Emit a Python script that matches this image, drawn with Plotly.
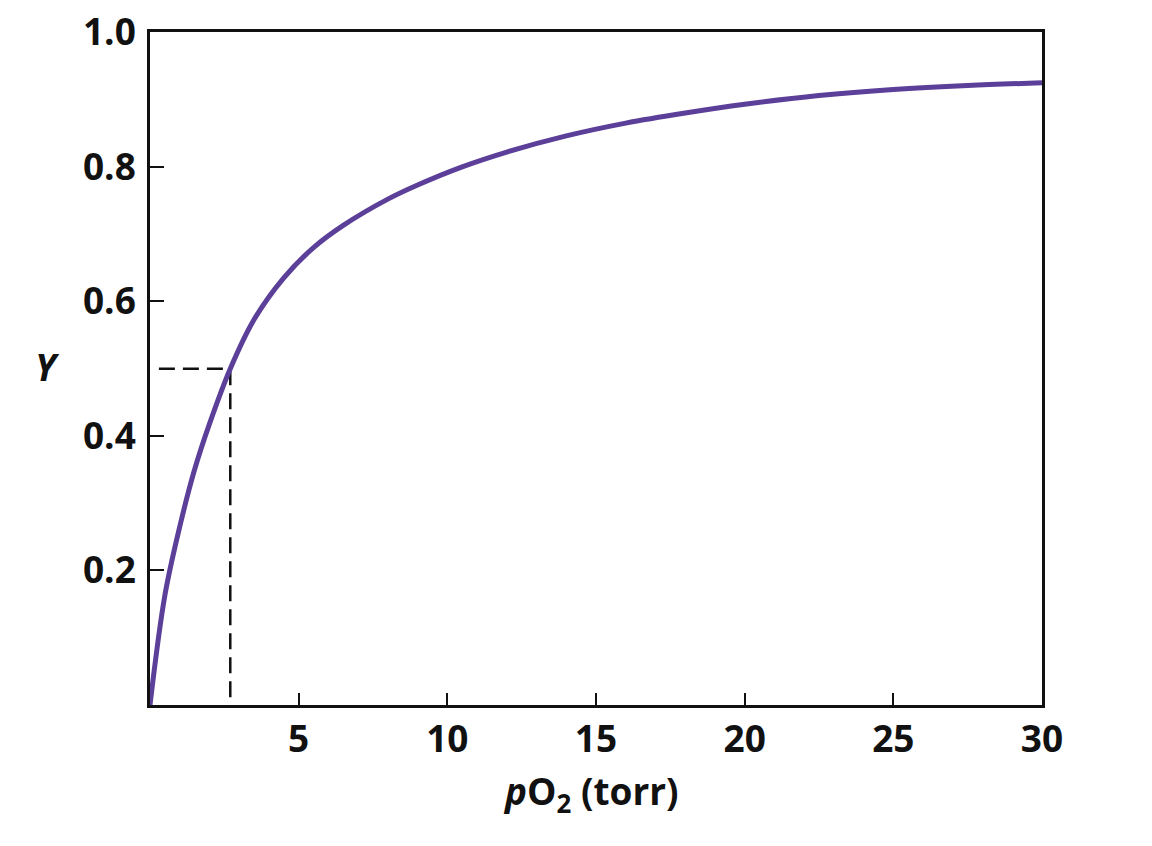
import plotly.graph_objects as go

# Oxygen binding curve values
po2 = [0, 0.5, 1.0, 1.5, 2.0, 2.7, 3.5, 4.5, 5.5, 6.5, 8.0, 9.0, 10.5, 12.0, 14.0,
       16.0, 18.0, 20.0, 22.5, 25.0, 27.5, 30.0]
y_sat = [0, 0.163, 0.265, 0.35, 0.418, 0.50, 0.573, 0.635, 0.68, 0.713, 0.752, 0.773,
         0.80, 0.822, 0.846, 0.865, 0.88, 0.893, 0.906, 0.915, 0.921, 0.925]

p50 = 2.7
half = 0.5
dash_start = 0.3

x_ticks = [5, 10, 15, 20, 25, 30]
y_ticks = [0.2, 0.4, 0.6, 0.8, 1.0]
y_ticklabels = ["0.2", "0.4", "0.6", "0.8", "1.0"]

FONT = "Open Sans"
FS = 37
fig = go.Figure()

# dashed guide lines at half saturation
fig.add_trace(go.Scatter(
    x=[dash_start, p50, p50], y=[half, half, 0],
    mode="lines", line=dict(color="#111111", width=2.5, dash="16px,8px"),
    hoverinfo="skip", showlegend=False,
))

fig.add_trace(go.Scatter(
    x=po2, y=y_sat, mode="lines",
    line=dict(color="#5b3f98", width=5, shape="spline", smoothing=1.0),
    showlegend=False,
))

fig.update_layout(
    width=1152, height=846,
    margin=dict(l=150, r=110, t=32, b=141, autoexpand=False),
    paper_bgcolor="white", plot_bgcolor="white",
    font=dict(family=FONT, color="#111111"),
    showlegend=False,
)

fig.update_xaxes(
    range=[0, 30], tickvals=x_ticks, ticktext=[str(v) for v in x_ticks],
    ticks="inside", ticklen=12, tickwidth=2, tickcolor="#111111",
    showline=True, linewidth=2.5, linecolor="#111111", mirror=True,
    showgrid=False, zeroline=False, automargin=False,
    tickfont=dict(family=FONT, size=FS, color="#111111", weight="bold"),
    ticklabelstandoff=0, ticklabeloverflow="allow",
)
fig.update_yaxes(
    range=[0, 1.0005], tickvals=y_ticks, ticktext=y_ticklabels,
    ticks="inside", ticklen=14, tickwidth=2, tickcolor="#111111",
    showline=True, linewidth=2.5, linecolor="#111111", mirror=True,
    showgrid=False, zeroline=False, automargin=False,
    tickfont=dict(family=FONT, size=FS, color="#111111", weight="bold"),
    ticklabelstandoff=4, ticklabeloverflow="allow",
)

fig.add_annotation(
    text="<b><i>p</i>O<sub>2</sub> (torr)</b>", xref="paper", yref="paper",
    x=0.494, y=0, yshift=-88, xanchor="center", yanchor="middle",
    showarrow=False, font=dict(family=FONT, size=FS, color="#111111"),
)
fig.add_annotation(
    text="<b><i>Y</i></b>", xref="paper", yref="paper",
    x=0, xshift=-103, y=0.5, yshift=2, xanchor="center", yanchor="middle",
    showarrow=False, font=dict(family=FONT, size=FS, color="#111111"),
)

fig.write_html("out.html", config={"displayModeBar": False},
               post_script="document.body.style.margin='0';")
